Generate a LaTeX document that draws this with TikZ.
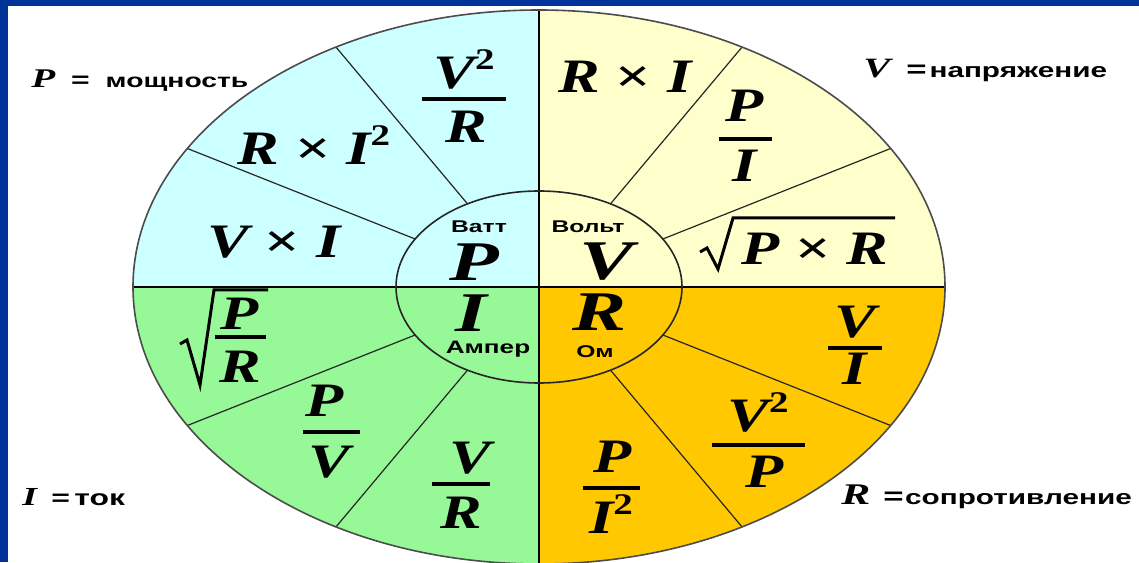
\documentclass[tikz,border=0pt]{standalone}
\usepackage{fontspec}
\setmainfont{Liberation Serif}
\setsansfont{Liberation Sans}
\definecolor{framec}{RGB}{0,51,153}
\definecolor{cyanc}{RGB}{204,255,255}
\definecolor{yelc}{RGB}{255,255,204}
\definecolor{grnc}{RGB}{150,248,150}
\definecolor{orgc}{RGB}{255,200,0}
\newcommand\sq{\raisebox{19pt}{\fontsize{30}{30}\selectfont\upshape\bfseries 2}}
\newcommand\tms{{\upshape ×}}
\tikzset{
  frm/.style={inner sep=0, xscale=1.3, anchor=base, font=\fontsize{48}{50}\selectfont\bfseries\itshape},
  big/.style={inner sep=0, xscale=1.45, font=\fontsize{56}{56}\selectfont\bfseries\itshape},
  unitlbl/.style={inner sep=0, xscale=1.45, font=\fontsize{17}{17}\selectfont\sffamily\bfseries},
  lbl/.style={inner sep=0, xscale=1.45, anchor=base west},
  fbar/.style={line width=4pt},
  rad/.style={line width=3pt, line join=miter},
  div/.style={line width=1.2pt, draw=black!85},
  axisln/.style={line width=2pt, draw=black},
  rim/.style={line width=1.6pt, draw=black!70},
}
\newcommand\lp[1]{\fontsize{#1}{#1}\selectfont\bfseries\itshape}
\newcommand\ls[1]{\fontsize{#1}{#1}\selectfont\sffamily\bfseries}
\begin{document}
\begin{tikzpicture}[x=1pt,y=1pt]
\useasboundingbox (0,0) rectangle (1139,562);
\clip (0,0) rectangle (1139,562);
\fill[white] (0,0) rectangle (1139,562);
\coordinate (C) at (539,275);
% quadrants
\fill[cyanc] (C) -- ++(180:406 and 277) arc[start angle=180,end angle=90,x radius=406,y radius=277] -- cycle;
\fill[yelc] (C) -- ++(90:406 and 277) arc[start angle=90,end angle=0,x radius=406,y radius=277] -- cycle;
\fill[orgc] (C) -- ++(0:406 and 277) arc[start angle=0,end angle=-90,x radius=406,y radius=277] -- cycle;
\fill[grnc] (C) -- ++(-90:406 and 277) arc[start angle=-90,end angle=-180,x radius=406,y radius=277] -- cycle;
% dividers
\foreach \a in {30,60,120,150,210,240,300,330}{
  \path (C) ++(\a:143 and 96) coordinate (i\a);
  \path (C) ++(\a:406 and 277) coordinate (o\a);
  \draw[div] (i\a) -- (o\a);
}
\foreach \a in {0,90,180,270}{\path (C) ++(\a:406 and 277) coordinate (o\a);}
\draw[axisln] (o180) -- (o0);
\draw[axisln] (o270) -- (o90);
\draw[rim] (C) ellipse[x radius=406,y radius=277];
\draw[rim,draw=black!85] (C) ellipse[x radius=143,y radius=96];
% frame
\fill[framec] (0,0) rectangle (8,562);
\fill[framec] (0,556) rectangle (1139,562);
% centre letters
\node[big] (cP) at (474,300) {P};
\node[big] (cV) at (607,300) {V};
\node[big] (cI) at (471,249) {I};
\node[big] (cR) at (600,250) {R};
\node[unitlbl] (uW) at (479,335) {Ватт};
\node[unitlbl] (uV) at (588,335) {Вольт};
\node[unitlbl,font=\fontsize{18}{18}\selectfont\sffamily\bfseries] (uA) at (488,213) {Ампер};
\node[unitlbl] (uO) at (595,210) {Ом};
% formulas top-left
\node[frm] (f1) at (274,304) {V \tms{} I};
\node[frm] (f2) at (314,397) {R \tms{} I\sq};
\node[frm] (f3n) at (464,473) {V\sq};
\node[frm] (f3d) at (466,419) {R};
\draw[fbar] (422,463) -- (506,463);
% top-right
\node[frm] (f4) at (625,469) {R \tms{} I};
\node[frm] (f5n) at (745,440) {P};
\node[frm] (f5d) at (745,380) {I};
\draw[fbar] (719,423) -- (772,423);
\node[frm] (f6) at (815,297) {P \tms{} R};
\draw[rad] (700,310) -- (707,314) -- (718,293) -- (733,344) -- (895,344);
% bottom-right
\node[frm] (f7n) at (855,224) {V};
\node[frm] (f7d) at (855,177) {I};
\draw[fbar] (828,214) -- (882,214);
\node[frm] (f8n) at (758,130) {V\sq};
\node[frm] (f8d) at (765,75) {P};
\draw[fbar] (712,117) -- (805,117);
\node[frm] (f9n) at (613,90) {P};
\node[frm] (f9d) at (611,29) {I\sq};
\draw[fbar] (583,74) -- (640,74);
% bottom-left
\node[frm] (f10n) at (470,89) {V};
\node[frm] (f10d) at (461,34) {R};
\draw[fbar] (432,78) -- (490,78);
\node[frm] (f11n) at (325,145) {P};
\node[frm] (f11d) at (329,85) {V};
\draw[fbar] (303,130) -- (360,130);
\node[frm] (f12n) at (240,232) {P};
\node[frm] (f12d) at (240,179) {R};
\draw[fbar] (215,225) -- (266,225);
\draw[rad] (180,218) -- (187,222) -- (200,177) -- (214,272) -- (268,272);
% outside labels
\node[lbl] (lP) at (31,474) {{\lp{27}P}\hspace{11pt}{\ls{22}=}\hspace{11pt}{\ls{19.5}мощность}};
\node[lbl] (lV) at (863,484) {{\lp{28}V}\hspace{11pt}{\ls{24}=}\hspace{2pt}{\ls{20.5}напряжение}};
\node[lbl] (lI) at (22,57) {{\lp{26}I}\hspace{10pt}{\ls{22}=}\hspace{3pt}{\ls{22}ток}};
\node[lbl] (lR) at (841,58) {{\lp{30}R}\hspace{9pt}{\ls{24}=}\hspace{1pt}{\ls{20.5}сопротивление}};
\end{tikzpicture}
\end{document}
